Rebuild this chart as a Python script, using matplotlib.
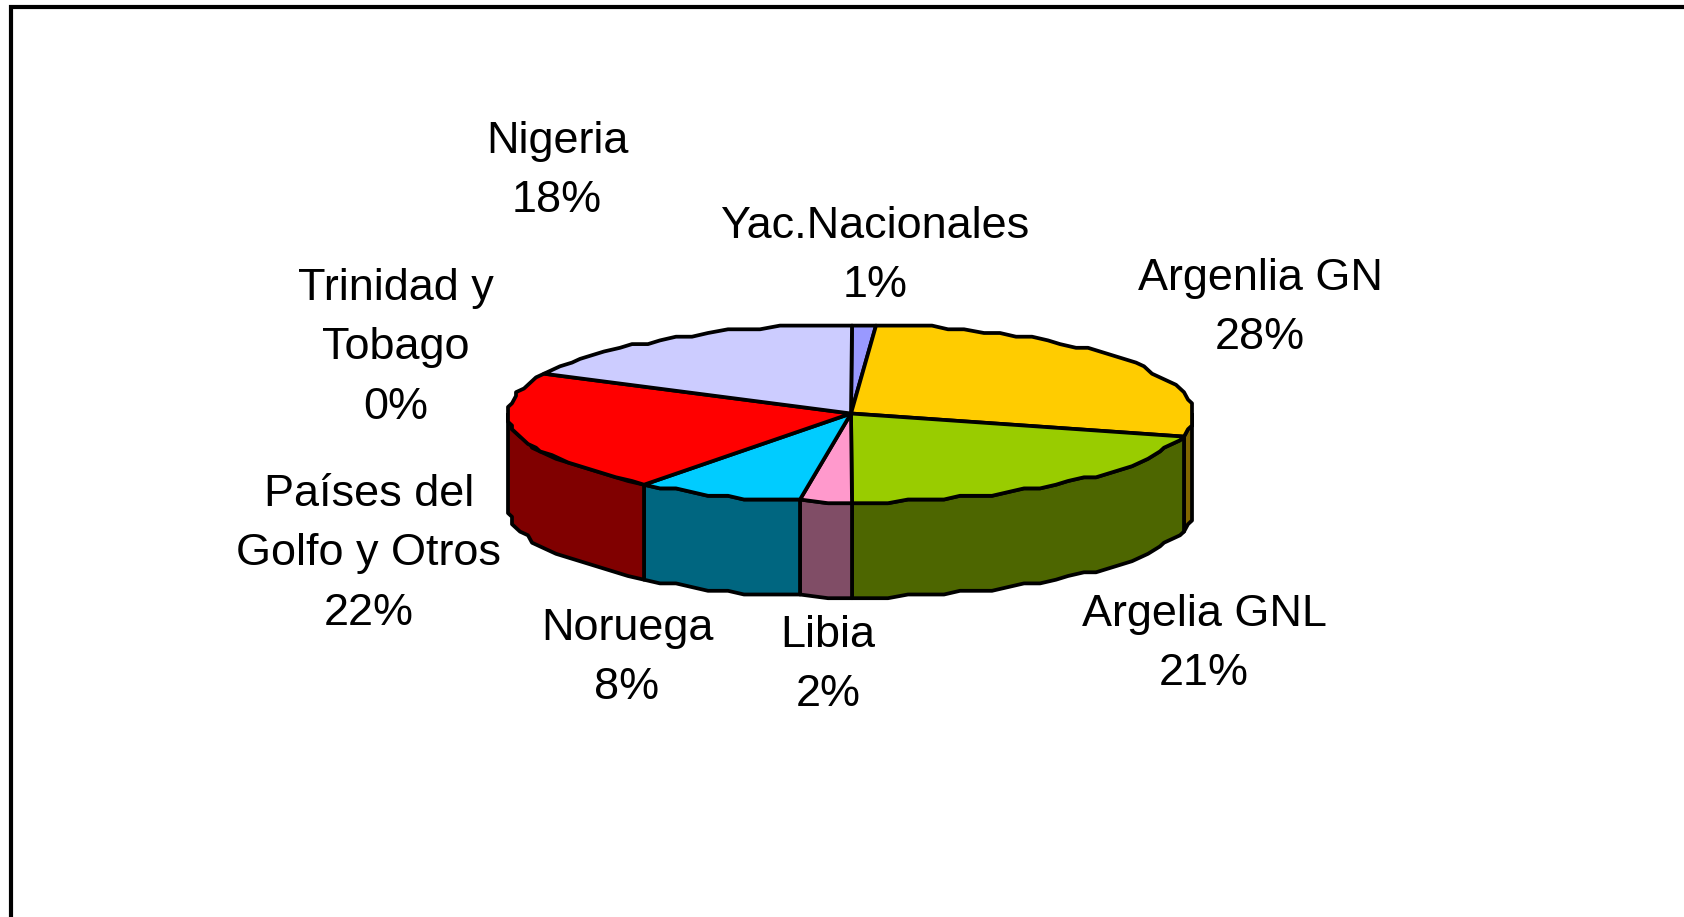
import numpy as np
import matplotlib
matplotlib.use("Agg")
import matplotlib.pyplot as plt

plt.rcParams['font.family'] = ['Liberation Sans', 'DejaVu Sans']

# clockwise from 12 o'clock, printed rounded
names = ['Yac.Nacionales', 'Argenlia GN', 'Argelia GNL', 'Libia', 'Noruega',
         'Trinidad y\nTobago', 'Países del\nGolfo y Otros', 'Nigeria']
values = [1.2, 27.8, 20.9, 2.4, 8.0, 0, 21.9, 17.8]
top_colors = ['#9999FF', '#FFCC00', '#99CC00', '#FF99CC', '#00CCFF',
              '#FFFFCC', '#FF0000', '#CCCCFF']
side_colors = ['#4D4D80', '#806600', '#4D6600', '#804D66', '#006680',
               '#808066', '#800000', '#666680']

label_x = [875, 1260, 1204, 828, 627, 396, 369, 557]
label_y = [256, 308, 644, 665, 658, 348, 554, 171]

cx, cy = 851, 413.5
rx, ry = 343, 88.5
depth = 95
LW = 2.7


def rim(p1, p2, dy=0):
    # coarse outline, the source was a low resolution metafile
    n = max(int((p2 - p1) * 3.6 / 3), 1)
    t = np.radians(np.linspace(p1, p2, n + 1) * 3.6)
    x = np.round((cx + rx * np.sin(t)) / 4) * 4
    y = np.round((cy - ry * np.cos(t)) / 3.7) * 3.7 + dy
    return x, y


fig = plt.figure(figsize=(16.84, 9.17), dpi=100)
ax = fig.add_axes([0, 0, 1, 1])
ax.set_xlim(0, 1684)
ax.set_ylim(917, 0)
ax.axis('off')

ax.plot([11, 11, 1700], [930, 6.5, 6.5], color='black', lw=3,
        solid_joinstyle='miter', clip_on=False)

edges = np.concatenate([[0], np.cumsum(values)])

# sides
for i in range(len(values)):
    p1, p2 = max(edges[i], 25), min(edges[i + 1], 75)
    if p2 <= p1:
        continue
    x, y = rim(p1, p2)
    ax.fill(np.r_[x, x[::-1]], np.r_[y, y[::-1] + depth], fc=side_colors[i],
            ec='black', lw=LW, joinstyle='round')

# top
for i in range(len(values)):
    if values[i] == 0:
        continue
    x, y = rim(edges[i], edges[i + 1])
    ax.fill(np.r_[cx, x], np.r_[cy, y], fc=top_colors[i], ec='black', lw=LW,
            joinstyle='round')

for name, v, lx, ly in zip(names, values, label_x, label_y):
    ax.text(lx, ly, f'{name}\n{v:.0f}%', ha='center', va='center', fontsize=32.4,
            linespacing=1.59, color='black')

fig.savefig('out.png', dpi=100)
